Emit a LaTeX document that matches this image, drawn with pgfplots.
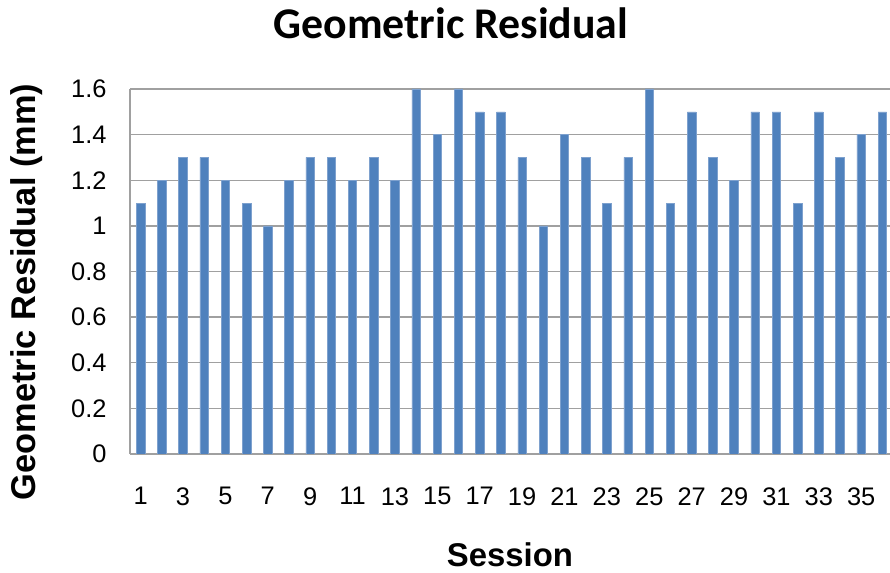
\documentclass[border=0pt]{standalone}
\usepackage{fontspec}
\setmainfont{Liberation Sans}
\newfontfamily\titlefont{Carlito}
\usepackage{pgfplots}
\pgfplotsset{compat=1.18}
\definecolor{barblue}{HTML}{4F81BD}
\definecolor{baredge}{HTML}{7EA1CE}
\definecolor{gridgray}{HTML}{A0A0A0}

% Geometric residual per session (mm)
\pgfplotstableread{
session residual
1  1.1
2  1.2
3  1.3
4  1.3
5  1.2
6  1.1
7  1.0
8  1.2
9  1.3
10 1.3
11 1.2
12 1.3
13 1.2
14 1.6
15 1.4
16 1.6
17 1.5
18 1.5
19 1.3
20 1.0
21 1.4
22 1.3
23 1.1
24 1.3
25 1.6
26 1.1
27 1.5
28 1.3
29 1.2
30 1.5
31 1.5
32 1.1
33 1.5
34 1.3
35 1.4
36 1.5
}\residuals

\begin{document}
\begin{tikzpicture}
\useasboundingbox (0,0) rectangle (890bp,573bp);
\begin{axis}[
  at={(130bp,119bp)}, anchor=south west,
  scale only axis, width=763bp, height=365bp,
  xmin=0.5, xmax=36.5, ymin=0, ymax=1.6,
  ybar, bar width=8.5bp, bar shift=0pt,
  axis x line*=bottom, axis y line*=left,
  axis line style={gridgray, line width=1.2bp, -},
  xtick={1,3,...,35}, ytick={0,0.2,...,1.6},
  major tick length=0pt,
  ymajorgrids, major grid style={gridgray, line width=1.3bp},
  /pgf/number format/assume math mode=true,
  ticklabel style={font=\fontsize{25.5}{30}\selectfont},
  yticklabel style={xshift=-20bp},
  xticklabel style={yshift=-30bp},
  title={Geometric Residual},
  title style={at={(axis description cs:0.4207,1.165)}, anchor=center,
    font=\titlefont\bfseries\fontsize{44}{50}\selectfont},
  xlabel={Session},
  xlabel style={at={(axis description cs:0.498,-0.2767)}, anchor=center,
    font=\bfseries\fontsize{33}{40}\selectfont},
  ylabel={Geometric Residual (mm)},
  ylabel style={at={(axis description cs:-0.135,0.444)}, anchor=center,
    font=\bfseries\fontsize{34.5}{40}\selectfont},
]
\addplot[fill=barblue, draw=baredge, line width=0.6bp] table[x=session, y=residual] {\residuals};
\end{axis}
\end{tikzpicture}
\end{document}
